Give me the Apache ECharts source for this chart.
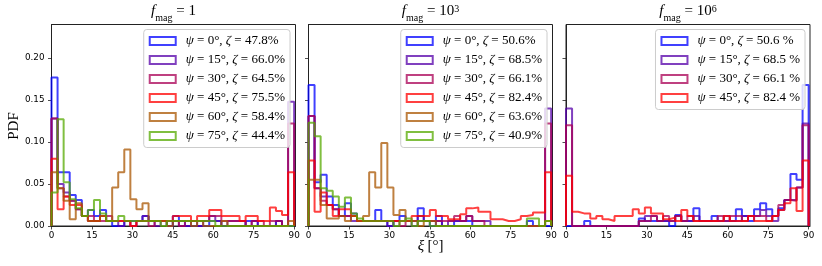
<!DOCTYPE html>
<html><head><meta charset="utf-8">
<script src="https://cdn.jsdelivr.net/npm/echarts@6/dist/echarts.min.js"></script>
<style>html,body{margin:0;padding:0;background:#fff}#c{width:822px;height:266px}</style>
</head><body><div id="c"></div>
<script>
// ---- histogram binning (40 bins over 0..90 deg) ----
const binStart = 0;
const binWidth = 2.25;
const xTicks = [0, 15, 30, 45, 60, 75, 90];
const yTicks = [0, 0.05, 0.10, 0.15, 0.20];

// ---- labels ----
const p1Labels = ['ψ = 0°, ζ = 47.8%', 'ψ = 15°, ζ = 66.0%', 'ψ = 30°, ζ = 64.5%', 'ψ = 45°, ζ = 75.5%', 'ψ = 60°, ζ = 58.4%', 'ψ = 75°, ζ = 44.4%'];
const p2Labels = ['ψ = 0°, ζ = 50.6%', 'ψ = 15°, ζ = 68.5%', 'ψ = 30°, ζ = 66.1%', 'ψ = 45°, ζ = 82.4%', 'ψ = 60°, ζ = 63.6%', 'ψ = 75°, ζ = 40.9%'];
const p3Labels = ['ψ = 0°, ζ = 50.6 %', 'ψ = 15°, ζ = 68.5 %', 'ψ = 30°, ζ = 66.1 %', 'ψ = 45°, ζ = 82.4 %'];

// ---- panel 1: f_mag = 1 ----
const p1_psi0  = [.177,.064,.064,.037,.031,.012,.019,.012,.019,.006, 0,0,.006,.006,.006,.012,.006,.006,.006,0, .012,.006,0,0,0,0,.006,.006,0,0, 0,0,.006,.006,0,0,0,.006,0,0];
const p1_psi15 = [.128,.05,.04,.03,.02,.012,.006,.006,.012,.006, .006,0,.006,0,.006,.012,.006,0,.006,0, .006,0,0,.006,0,.006,.012,.006,0,.006, .006,.006,0,.006,0,0,0,.006,0,.148];
const p1_psi30 = [.128,.045,.035,.03,.02,.012,.012,.006,.006,.012, .006,.006,.006,0,.006,.006,0,.006,.006,.006, .006,0,.006,.006,.006,.006,.012,.012,.006,.006, .006,.006,0,.006,.006,0,.006,.006,0,.122];
const p1_psi45 = [.08,.02,.035,.025,.025,.012,.006,.006,.012,.006, .006,.006,.006,0,.006,.006,.006,.006,.006,.006, .012,.012,.012,.006,.012,.012,.019,.019,.012,.012, .012,.006,.012,.012,.006,.006,.022,.018,.013,.064];
const p1_psi60 = [.064,.045,.03,.008,.027,.012,.006,.006,.012,.006, .046,.064,.091,.032,.02,.027,.006,.006,.006,0, .006,.006,.006,0,.006,0,0,0,.006,0, 0,0,0,0,0,0,0,0,0,.006];
const p1_psi75 = [.04,.127,.052,.032,.021,.012,.019,.031,.015,.006, .006,.012,.006,.006,.006,.006,.006,.006,0,.006, .006,.006,.006,.006,.006,.006,.006,0,0,0, 0,0,0,0,0,0,0,0,0,0];

// ---- panel 2: f_mag = 10^3 ----
const p2_psi0  = [.168,.052,.061,.035,.025,.012,.027,.015,.006,.006, .006,.019,.006,0,.006,.012,.006,.006,.021,.006, 0,.012,0,0,.006,.006,.006,0,0,0, 0,0,0,0,0,0,.006,0,0,0];
const p2_psi15 = [.131,.045,.035,.025,.02,.012,.012,.006,.006,.006, .006,.006,.006,0,.006,.006,.006,0,.012,.006, .006,.006,0,.006,.006,.006,.012,.006,.006,.006, 0,0,0,0,0,0,0,0,0,.14];
const p2_psi30 = [.131,.045,.03,.025,.02,.012,.012,.012,.006,.006, .006,.006,.006,.006,.006,0,.006,.006,.006,.006, .006,.006,.006,.006,.012,.006,.012,.006,.006,0, 0,0,0,0,0,0,0,0,0,.122];
const p2_psi45 = [.078,.017,.04,.025,.012,.02,.02,.012,.006,.006, .006,.006,.006,.006,.006,.006,.006,.012,.012,.012, .019,.012,.012,.008,.008,.014,.021,.022,.017,.017, .008,.008,.006,.006,.008,.012,.013,.016,.016,.064];
const p2_psi60 = [.055,.055,.025,.009,.009,.012,.006,.012,.006,.012, .064,.046,.099,.046,.013,.019,.006,.006,0,.006, .006,0,0,0,0,0,0,0,0,0, 0,0,0,0,0,0,0,0,0,.006];
const p2_psi75 = [.123,.107,.045,.042,.035,.023,.034,.015,.009,.006, .006,.006,.006,.006,0,.006,.009,0,.006,.006, 0,0,0,0,0,0,0,0,0,0, 0,0,0,0,0,0,.009,.009,0,.006];

// ---- panel 3: f_mag = 10^6 ----
const p3_psi0  = [0,0,0,.006,0,0,0,0,0,0, 0,0,.009,.006,.006,.006,.006,0,.013,.006, .006,.021,.006,.006,.012,.006,.006,.006,.02,.012, .006,.02,.027,.02,.012,.021,.031,.062,.055,.168];
const p3_psi15 = [.14,0,0,0,0,0,0,0,0,0, 0,0,.006,.012,.012,.006,.006,.006,.012,.006, .006,.012,.006,.006,.006,.006,.012,.006,.006,.012, .012,.012,.019,.012,.006,.019,.031,.031,.046,.122];
const p3_psi30 = [.12,0,0,0,0,0,0,0,0,0, 0,0,.006,.006,.012,.006,.012,.006,.012,.006, .012,.006,.006,.006,.006,.012,.006,.012,.012,.006, .012,.012,.012,.006,.012,.025,.031,.03,.046,.12];
const p3_psi45 = [.06,.017,.015,.015,.009,.012,.008,.006,.012,.012, .012,.02,.015,.022,.015,.015,.008,.01,.006,.019, .012,.006,.006,.006,.006,.006,.012,.006,.006,.006, .012,.006,.006,.006,.012,.019,.027,.045,.018,.078];

const seriesColors = ['rgba(0,0,255,0.75)', 'rgba(85,0,170,0.75)', 'rgba(170,0,85,0.75)', 'rgba(255,0,0,0.75)', 'rgba(170,85,0,0.75)', 'rgba(85,170,0,0.75)'];

const panels = [
  { labels: p1Labels, data: [p1_psi0, p1_psi15, p1_psi30, p1_psi45, p1_psi60, p1_psi75], title: '{i|f}{sub|mag}{n| = 1}' },
  { labels: p2Labels, data: [p2_psi0, p2_psi15, p2_psi30, p2_psi45, p2_psi60, p2_psi75], title: '{i|f}{sub|mag}{n| = 10}{sup|3}' },
  { labels: p3Labels, data: [p3_psi0, p3_psi15, p3_psi30, p3_psi45], title: '{i|f}{sub|mag}{n| = 10}{sup|6}' }
];

const gridLefts = [51.5, 308.5, 566];
const gridW = 244;
const legendRights = [532, 275, 17];
const serif = 'Liberation Serif';

function stepPoints(vals) {
  const pts = [[binStart, 0]];
  for (let i = 0; i < vals.length; i++) {
    const a = binStart + i * binWidth, b = a + binWidth;
    pts.push([a, vals[i]]);
    pts.push([b, vals[i]]);
  }
  pts.push([binStart + vals.length * binWidth, 0]);
  return pts;
}

const grids = [], xAxes = [], yAxes = [], series = [], legends = [], titles = [];
panels.forEach((p, k) => {
  grids.push({ left: gridLefts[k], width: gridW, top: 24.5, bottom: 40, show: true, borderColor: '#222', borderWidth: 1, backgroundColor: 'transparent' });
  xAxes.push({
    gridIndex: k, type: 'value', min: 0, max: 90.5,
    axisLine: { show: true, onZero: false, lineStyle: { color: '#222', width: 1 } },
    axisTick: { show: true, length: 3.5, customValues: xTicks, lineStyle: { color: '#222', width: 0.8 } },
    axisLabel: { customValues: xTicks, fontSize: 8.8, color: '#000', margin: 5, fontFamily: 'DejaVu Sans' },
    splitLine: { show: false }
  });
  yAxes.push({
    gridIndex: k, type: 'value', min: 0, max: 0.24,
    axisLine: { show: true, lineStyle: { color: '#222', width: 1 } },
    axisTick: { show: true, length: 3.5, customValues: yTicks, lineStyle: { color: '#222', width: 0.8 } },
    axisLabel: { show: k === 0, customValues: yTicks, fontSize: 8.8, color: '#000', margin: 7, fontFamily: 'DejaVu Sans', formatter: v => v.toFixed(2) },
    splitLine: { show: false }
  });
  p.data.forEach((vals, j) => {
    series.push({
      name: p.labels[j], type: 'line', xAxisIndex: k, yAxisIndex: k,
      data: stepPoints(vals), showSymbol: false, symbol: 'none', silent: true,
      lineStyle: { color: seriesColors[j], width: 2 }, itemStyle: { color: seriesColors[j] },
      clip: true, animation: false
    });
  });
  legends.push({
    orient: 'vertical', right: legendRights[k], top: 29.5, align: 'left',
    icon: 'rect', itemWidth: 26, itemHeight: 8, itemGap: 4,
    padding: [4, 5, 4, 5], backgroundColor: 'rgba(255,255,255,0.8)', borderColor: '#cccccc', borderWidth: 1, borderRadius: 3,
    selectedMode: false,
    data: p.labels.map((n, j) => ({ name: n, itemStyle: { color: 'rgba(0,0,0,0)', borderColor: seriesColors[j], borderWidth: 2 } })),
    formatter: name => name.replace(/([ψζ])/g, '{i|$1}'),
    textStyle: {
      fontFamily: serif, fontSize: 13, color: '#000', lineHeight: 15, padding: [0, 0, 0, 5],
      rich: { i: { fontFamily: serif, fontStyle: 'italic', fontSize: 13, color: '#000', lineHeight: 15 } }
    }
  });
  titles.push({
    text: p.title, left: gridLefts[k] + gridW / 2, top: 4, textAlign: 'center', padding: 0,
    textStyle: {
      fontWeight: 'normal',
      rich: {
        i: { fontFamily: serif, fontStyle: 'italic', fontWeight: 'normal', fontSize: 15, lineHeight: 18, color: '#000', verticalAlign: 'top' },
        n: { fontFamily: serif, fontWeight: 'normal', fontSize: 15, lineHeight: 18, color: '#000', verticalAlign: 'top' },
        sub: { fontFamily: serif, fontWeight: 'normal', fontSize: 10, lineHeight: 10, padding: [9, 0, 0, 0], color: '#000', verticalAlign: 'top' },
        sup: { fontFamily: serif, fontWeight: 'normal', fontSize: 10, lineHeight: 10, padding: [0, 0, 8, 0], color: '#000', verticalAlign: 'top' }
      }
    }
  });
});

const chart = echarts.init(document.getElementById('c'), null, { renderer: 'canvas' });
chart.setOption({
  animation: false,
  backgroundColor: '#fff',
  title: titles,
  grid: grids, xAxis: xAxes, yAxis: yAxes, series: series, legend: legends,
  graphic: [
    { type: 'text', x: 14, y: 126, rotation: Math.PI / 2,
      style: { text: 'PDF', fontFamily: serif, fontSize: 15, fill: '#000', align: 'center', verticalAlign: 'middle' } },
    { type: 'text', x: 430.5, y: 246,
      style: { text: '{i|ξ} {n|[°]}', align: 'center', verticalAlign: 'middle',
        rich: { i: { fontFamily: serif, fontStyle: 'italic', fontSize: 15, fill: '#000' }, n: { fontFamily: serif, fontSize: 15, fill: '#000' } } } }
  ]
});
</script></body></html>
